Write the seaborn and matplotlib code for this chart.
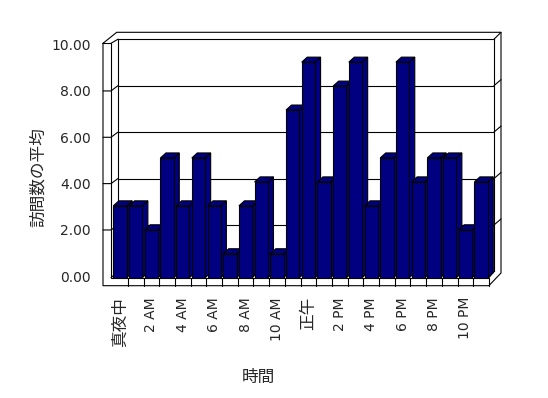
import numpy as np
import pandas as pd
import seaborn as sns
import matplotlib.pyplot as plt
from matplotlib.patches import Polygon

# data
hours = ["真夜中", "1 AM", "2 AM", "3 AM", "4 AM", "5 AM", "6 AM", "7 AM",
         "8 AM", "9 AM", "10 AM", "11 AM", "正午", "1 PM", "2 PM", "3 PM",
         "4 PM", "5 PM", "6 PM", "7 PM", "8 PM", "9 PM", "10 PM", "11 PM"]
avg_visits = [3, 3, 2, 5, 3, 5, 3, 1, 3, 4, 1, 7, 9, 4, 8, 9, 3, 5, 9, 4, 5, 5, 2, 4]
y_ticks = [0, 2, 4, 6, 8, 10]

df = pd.DataFrame({"hour": hours, "visits": avg_visits})

sns.set_style("white")
plt.rcParams["font.family"] = ["DejaVu Sans", "Noto Sans CJK JP"]

W, H = 548, 398
fig = plt.figure(figsize=(W / 100, H / 100), dpi=100)
fig.patch.set_facecolor("white")


def box(x0, y0, x1, y1):
    # pixel box (origin top-left) -> figure fraction
    return [x0 / W, 1 - y1 / H, (x1 - x0) / W, (y1 - y0) / H]


# back wall with gridlines
ax_back = fig.add_axes(box(118, 39.2, 494, 271.4), zorder=0)
ax_back.set_xlim(0, 1)
ax_back.set_ylim(0, 10)
ax_back.set_xticks([])
ax_back.set_yticks(y_ticks[1:-1])
ax_back.tick_params(left=False, labelleft=False)
ax_back.grid(axis="y", color="black", linewidth=0.8)
for s in ax_back.spines.values():
    s.set_visible(True)
    s.set_color("black")
    s.set_linewidth(0.8)

# pixel overlay for the 3d frame
ax_px = fig.add_axes([0, 0, 1, 1], zorder=0.5)
ax_px.set_xlim(0, W)
ax_px.set_ylim(H, 0)
ax_px.axis("off")

# front value axis (left wall face)
ax_front = fig.add_axes(box(103, 44.6, 111, 276.3), zorder=0.6)
ax_front.set_facecolor("none")
ax_front.set_ylim(0, 10)
ax_front.set_xticks([])
ax_front.set_yticks(y_ticks)
ax_front.set_yticklabels([f"{v:.2f}" for v in y_ticks], fontsize=10)
ax_front.tick_params(axis="y", length=0, pad=8.6)
for s in ax_front.spines.values():
    s.set_visible(False)

# bars
ax_bar = fig.add_axes(box(112.15, 38.2, 488.95, 277.7), zorder=1)
ax_bar.set_facecolor("none")
sns.barplot(data=df, x="hour", y="visits", color="#000080", saturation=1,
            width=0.85, edgecolor="black", linewidth=0.8, ax=ax_bar)
ax_bar.set_xlim(-0.5, len(hours) - 0.5)
ax_bar.set_ylim(0, 10)
for s in ax_bar.spines.values():
    s.set_visible(False)
ax_bar.set_yticks([])

ax_bar.set_xticks(range(0, len(hours), 2))
ax_bar.set_xticklabels(hours[::2], rotation=90, va="top", ha="center")
for t in ax_bar.get_xticklabels():
    t.set_fontsize(10 if t.get_text().isascii() else 12)
ax_bar.tick_params(axis="x", length=0, pad=13.9)

ax_bar.set_xlabel("時間", fontsize=12)
ax_bar.set_ylabel("訪問数の平均", fontsize=12)
ax_bar.xaxis.set_label_coords(258, 368, transform=ax_px.transData)
ax_bar.yaxis.set_label_coords(47, 177.5, transform=ax_px.transData)

# 3d side and top faces of each bar
px_cat = (488.95 - 112.15) / len(hours)
px_unit = (277.7 - 38.2) / 10
dx, dy = 5.5 / px_cat, 5 / px_unit
for i, p in enumerate(ax_bar.patches):
    x0, w, h = p.get_x(), p.get_width(), p.get_height()
    p.set_zorder(3 + 3 * i + 2)
    side = [(x0 + w, 0), (x0 + w + dx, dy), (x0 + w + dx, h + dy), (x0 + w, h)]
    top = [(x0, h), (x0 + dx, h + dy), (x0 + w + dx, h + dy), (x0 + w, h)]
    for pts in (side, top):
        ax_bar.add_patch(Polygon(pts, closed=True, facecolor="#000080",
                                 edgecolor="black", linewidth=0.8,
                                 zorder=3 + 3 * i, clip_on=False))


def to_px(ax, x, y):
    d = ax.transData.transform((x, y))
    return d[0], H - d[1]


kw = dict(color="black", linewidth=0.8, solid_joinstyle="miter")
# outer frame and walls
ax_px.plot([103, 103, 488.9, 501, 501, 116.7, 103],
           [43.3, 285.7, 285.7, 273, 32.3, 32.3, 43.3], **kw)
ax_px.plot([103, 111, 111, 488.9, 488.9], [43.3, 43.3, 277.7, 277.7, 285.7], **kw)
ax_px.plot([111, 118], [43.3, 39.2], **kw)
ax_px.plot([494, 501], [39.2, 32.3], **kw)
ax_px.plot([488.9, 494], [277.7, 271.4], **kw)
ax_px.plot([111, 118], [277.7, 271.4], **kw)

# tick lines across left wall and right rim
for v in y_ticks[1:-1]:
    _, fy = to_px(ax_front, 0, v)
    _, by = to_px(ax_back, 0, v)
    ax_px.plot([103, 111, 118], [fy, fy, by], **kw)
    ax_px.plot([494, 501], [by, by - 6], **kw)

# floor strip separators at category boundaries
for b in np.arange(0.5, len(hours) - 1, 1.0):
    bx, _ = to_px(ax_bar, b, 0)
    ax_px.plot([bx, bx], [277.7, 285.7], **kw)

fig.savefig("out.png", dpi=100)
